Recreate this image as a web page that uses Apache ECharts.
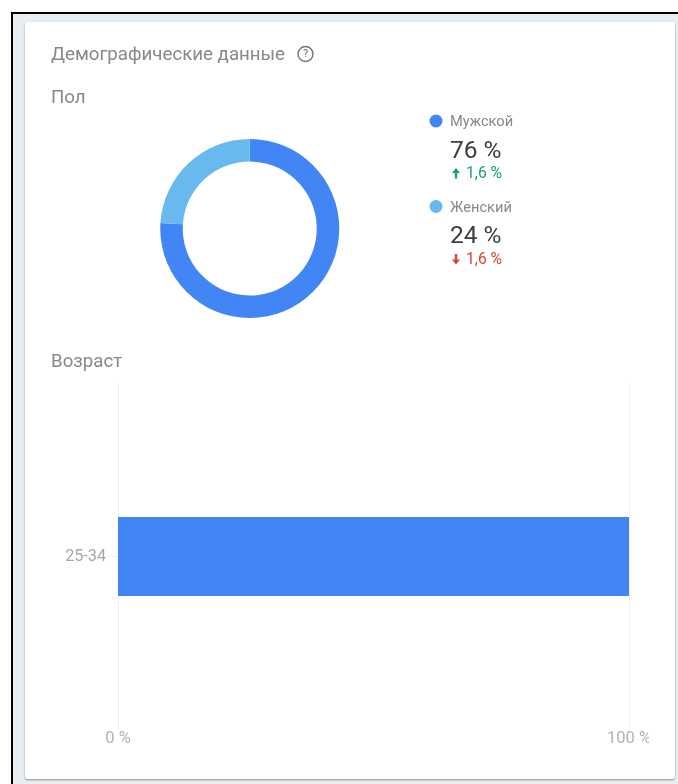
<!DOCTYPE html>
<html>
<head>
<meta charset="utf-8">
<style>
  html, body { margin: 0; padding: 0; background: #ffffff; }
  #chart { width: 678px; height: 784px; }
</style>
<script src="https://cdn.jsdelivr.net/npm/echarts@6/dist/echarts.min.js"></script>
</head>
<body>
<div id="chart"></div>
<script>
// Gender split
const genderNames = ['Мужской', 'Женский'];
const genderShares = [76, 24];
const genderDeltas = ['1,6 %', '1,6 %'];
const genderTrends = ['up', 'down'];
const genderColors = ['#4285f4', '#67b9ee'];

// Age distribution
const ageCategories = ['25-34'];
const ageShares = [100];
const ageTicks = [0, 100];

const FONT = 'Roboto, sans-serif';
const trendColors = { up: '#1e9e68', down: '#d9433a' };

function textAt(x, y, text, size, fill) {
  return {
    type: 'text', x: x, y: y, silent: true,
    style: { text: text, fontFamily: FONT, fontSize: size, fill: fill, verticalAlign: 'middle', align: 'left' }
  };
}

// Small arrow built from a stem and a head, pointing up or down.
function arrow(cx, cy, dir, color) {
  const s = dir === 'up' ? -1 : 1;
  return {
    type: 'polygon', silent: true,
    shape: { points: [
      [cx - 1.2, cy - s * 5], [cx + 1.2, cy - s * 5], [cx + 1.2, cy + s * 0.5],
      [cx + 4, cy + s * 0.5], [cx, cy + s * 5.5], [cx - 4, cy + s * 0.5], [cx - 1.2, cy + s * 0.5]
    ] },
    style: { fill: color }
  };
}

const legendItems = [];
genderNames.forEach(function (name, i) {
  const top = 121 + i * 85.5;
  const color = trendColors[genderTrends[i]];
  legendItems.push(
    { type: 'circle', silent: true, shape: { cx: 436, cy: top, r: 6.5 }, style: { fill: genderColors[i] } },
    textAt(450, top + 1.5, name, 14.7, '#85898d'),
    textAt(450, top + 30.5, genderShares[i] + ' %', 24.5, '#3c4043'),
    arrow(456, top + 52.5, genderTrends[i], color),
    textAt(466, top + 53.5, genderDeltas[i], 15.7, color)
  );
});

const chart = echarts.init(document.getElementById('chart'), null, { renderer: 'canvas' });
chart.setOption({
  animation: false,
  backgroundColor: '#ffffff',
  graphic: [
    // Page frame and card behind the charts
    { type: 'rect', z: -10, silent: true, shape: { x: 11, y: 12, width: 667, height: 772 }, style: { fill: '#000000' } },
    { type: 'rect', z: -9, silent: true, shape: { x: 13, y: 14, width: 665, height: 770 }, style: { fill: '#e9eef2' } },
    { type: 'rect', z: -8, silent: true, shape: { x: 25, y: 22, width: 650, height: 757, r: 2 },
      style: { fill: '#ffffff', shadowColor: 'rgba(60,64,67,0.55)', shadowBlur: 2, shadowOffsetY: 1 } },
    textAt(51, 55, 'Демографические данные', 18.7, '#85898d'),
    { type: 'circle', silent: true, shape: { cx: 305.5, cy: 54, r: 7.5 }, style: { fill: 'none', stroke: '#6f7478', lineWidth: 1.4 } },
    {
      type: 'text', x: 305.5, y: 54.5, silent: true,
      style: { text: '?', fontFamily: FONT, fontSize: 11, fill: '#6f7478', align: 'center', verticalAlign: 'middle' }
    },
    textAt(51, 98, 'Пол', 18.7, '#85898d'),
    textAt(51, 362, 'Возраст', 18.7, '#85898d')
  ].concat(legendItems).concat([
    // The right-hand axis label runs into the edge of its plot container
    { type: 'rect', z: 100, silent: true, shape: { x: 649, y: 728, width: 25, height: 22 }, style: { fill: '#ffffff' } }
  ]),
  grid: { left: 118, top: 383, width: 511, height: 347, containLabel: false },
  xAxis: {
    type: 'value', min: ageTicks[0], max: ageTicks[1], interval: 100,
    axisLine: { show: false }, axisTick: { show: false },
    splitLine: { show: true, lineStyle: { color: '#efefef', width: 1 } },
    axisLabel: { formatter: '{value} %', color: '#b0b3b6', fontFamily: FONT, fontSize: 16.5, margin: 1, align: 'center', lineHeight: 16 }
  },
  yAxis: {
    type: 'category', data: ageCategories,
    axisLine: { show: false },
    axisTick: { show: true, length: 10, alignWithLabel: true, lineStyle: { color: '#efefef' } },
    axisLabel: { color: '#a4a7aa', fontFamily: FONT, fontSize: 16.2, margin: 12, padding: [6, 0, 0, 0] },
    splitLine: { show: false }
  },
  series: [
    {
      type: 'pie', radius: [67, 89.5], center: [249.75, 228.5], startAngle: 90, clockwise: true,
      label: { show: false }, labelLine: { show: false }, silent: true,
      data: genderNames.map(function (name, i) {
        return { name: name, value: genderShares[i], itemStyle: { color: genderColors[i] } };
      })
    },
    {
      type: 'bar', data: ageShares, barWidth: 79, silent: true,
      itemStyle: { color: '#4285f4' }
    }
  ]
});
</script>
</body>
</html>
